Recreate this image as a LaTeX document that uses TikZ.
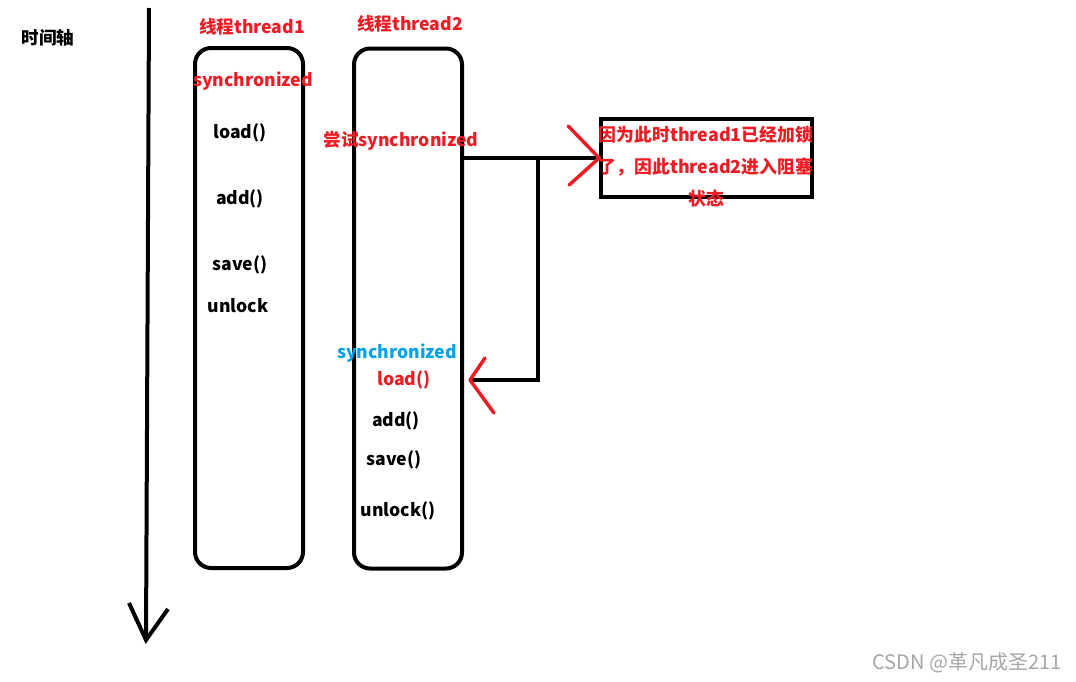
\documentclass[tikz,border=0pt]{standalone}
\usepackage{fontspec}
\setmainfont{Noto Sans CJK SC}
\usetikzlibrary{positioning, calc}
\definecolor{paintred}{RGB}{237,28,36}
\definecolor{paintblue}{RGB}{0,162,232}
\tikzset{
    thread/.style={draw, line width=3pt, rounded corners=12pt, minimum width=81pt, minimum height=390pt, inner sep=0pt},
    notebox/.style={draw, line width=3pt, minimum width=158pt, minimum height=58.5pt, inner sep=0pt},
    op/.style={font=\bfseries\fontsize{13.2}{15}\selectfont, inner sep=0pt},
    title/.style={op, text=paintred},
    wire/.style={line width=3pt},
    barb/.style={paintred, line width=2.6pt, line cap=round, line join=round}
}

\begin{document}
\begin{tikzpicture}[x=0.75pt, y=-0.75pt]
    \useasboundingbox (0,0) rectangle (1076,682);
    % time axis
    \coordinate (ttop) at (149,8);
    \coordinate (tend) at (146,640);
    \node[op] (axis) at (48,38) {时间轴};
    \draw[wire] (ttop) -- (tend);
    \draw[wire, line join=miter] ($(tend)+(-17,-37)$) -- (tend) -- ($(tend)+(22,-31)$);

    % the two threads
    \node[thread] (box1) at (249,308) {};
    \node[thread] (box2) at (408,308.5) {};
    \node[title] (name1) at (252,27) {线程thread1};
    \node[title] (name2) at (410,24) {线程thread2};

    \node[title] (t1sync) at (253,81) {synchronized};
    \node[op] (t1load) at (240,133) {load()};
    \node[op] (t1add) at (240,199) {add()};
    \node[op] (t1save) at (240,265) {save()};
    \node[op] (t1unlock) at (238,306) {unlock};

    \node[title] (t2try) at (401,141) {尝试synchronized};
    \node[op, text=paintblue] (t2sync) at (397,353) {synchronized};
    \node[title] (t2load) at (404,380) {load()};
    \node[op] (t2add) at (396,421) {add()};
    \node[op] (t2save) at (394,460) {save()};
    \node[op] (t2unlock) at (398,511) {unlock()};

    % blocked note
    \node[notebox] (note) at (706.5,158) {};
    \node[title, align=center, font=\bfseries\fontsize{13.4}{24}\selectfont] (notetext) at (706,167)
        {因为此时thread1已经加锁\\了，因此thread2进入阻塞\\状态};

    % connectors
    \coordinate (fork) at ($(box2.east |- note.west)!0.548!(note.west)$);
    \coordinate (back) at ($(box2.east |- t2load)+(6,0)$);
    \draw[wire] (box2.east |- note.west) -- (note.west);
    \draw[wire] (fork) |- (back);
    \draw[barb] ($(note.west)+(-31,-32)$) -- (note.west) -- ($(note.west)+(-30,27)$);
    \draw[barb] ($(back)+(15,-22)$) -- (back) -- ($(back)+(24,33)$);

    \node[text=black!35, font=\fontsize{15}{17}\selectfont, inner sep=0pt] (mark) at (967,663) {CSDN @革凡成圣211};
\end{tikzpicture}
\end{document}
